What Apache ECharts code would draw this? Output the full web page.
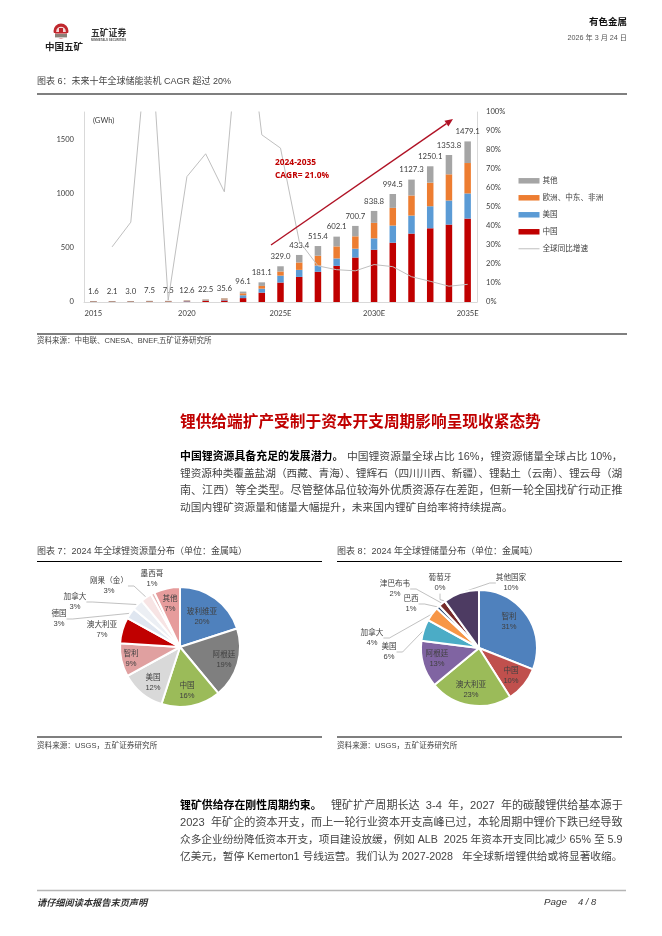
<!DOCTYPE html>
<html><head><meta charset="utf-8">
<style>html,body{margin:0;padding:0;background:#fff}#c{width:662px;height:936px}</style>
<script src="https://cdn.jsdelivr.net/npm/echarts@6/dist/echarts.min.js"></script>
</head><body><div id="c"></div>
<script>
// ---- chart data ----
const years = ['2015','2016','2017','2018','2019','2020','2021','2022','2023','2024','2025E','2026E','2027E','2028E','2029E','2030E','2031E','2032E','2033E','2034E','2035E'];
const totals = [1.6,2.1,3.0,7.5,7.5,12.6,22.5,35.6,96.1,181.1,329.0,433.4,515.4,602.1,700.7,838.8,994.5,1127.3,1250.1,1353.8,1479.1];
const china = [0.4,0.5,0.8,2.2,2.4,4.5,9,14,36,86,179,231,278,333,410,481,546,630,679,713,768];
const usa = [0.5,0.7,1,2.5,2.2,3.5,6,9,26,37,64,65,58,68,81,105,158,166,203,222,232];
const emea = [0.4,0.5,0.7,1.8,1.8,3.2,5.5,9,18,25,38,68,90,111,114,143,163,185,217,241,280];
const others = [0.3,0.4,0.5,1.0,1.1,1.4,2.0,3.6,16.1,33.1,48,69.4,89.4,90.1,95.7,109.8,127.5,146.3,151.1,177.8,199.1];
const growth = [null,29,42,150,1,66,78,58,170,88,81,32,19,17,16.4,19.7,18.6,13.3,10.9,8.3,9.3];

const resNames = ['玻利维亚','阿根廷','中国','美国','智利','澳大利亚','德国','加拿大','刚果（金）','墨西哥','其他'];
const resValues = [20,19,16,12,9,7,3,3,3,1,7];
const resColors = ['#4f81bd','#7f7f7f','#9bbb59','#d9d9d9','#e0a0a0','#c00000','#dfe6f0','#eceff4','#f7e4e4','#e6b9b8','#e69c9c'];
const resLabelPos = [[202,617],[224,660],[187,691],[153,683],[131,659],[102,630],[59,619],[75,602],[109,586],[152,579],[170,604]];
const resOutside = [6,7,8];

const rsvNames = ['智利','中国','澳大利亚','阿根廷','美国','加拿大','巴西','津巴布韦','葡萄牙','其他国家'];
const rsvValues = [31,10,23,13,6,4,1,2,0,10];
const rsvColors = ['#4f81bd','#c0504d','#9bbb59','#8064a2','#4bacc6','#f79646','#2c4d75','#772c2a','#5f7530','#4d3b62'];
const rsvLabelPos = [[509,622],[511,676],[471,690],[437,659],[389,652],[372,638],[411,604],[395,589],[440,583],[511,583]];
const rsvOutside = [4,5,6,7,8,9];

// ---- page text ----
const CN = '"Liberation Sans","Noto Sans CJK SC",sans-serif';
const LAT = 'Lato,"Noto Sans CJK SC",sans-serif';
const para1 = [
 ['中国锂资源具备充足的发展潜力。','中国锂资源量全球占比 16%，锂资源储量全球占比 10%，',347,623],
 ['','锂资源种类覆盖盐湖（西藏、青海）、锂辉石（四川川西、新疆）、锂黏土（云南）、锂云母（湖',180,623],
 ['','南、江西）等全类型。尽管整体品位较海外优质资源存在差距，但新一轮全国找矿行动正推',180,623],
 ['','动国内锂矿资源量和储量大幅提升，未来国内锂矿自给率将持续提高。',180,513]];
const para1Y = [457,474,491,508];
const para2 = [
 ['锂矿供给存在刚性周期约束。','锂矿扩产周期长达  3-4  年，2027  年的碳酸锂供给基本源于',331,623],
 ['','2023  年矿企的资本开支，而上一轮行业资本开支高峰已过，本轮周期中锂价下跌已经导致',180,623],
 ['','众多企业纷纷降低资本开支，项目建设放缓，例如 ALB  2025 年资本开支同比减少 65% 至 5.9',180,623],
 ['','亿美元，暂停 Kemerton1 号线运营。我们认为 2027-2028   年全球新增锂供给或将显著收缩。',180,623]];
const para2Y = [806,823,840,857];

const ctx = document.createElement('canvas').getContext('2d');
function w100(t,weight){ctx.font=(weight||'normal')+' 100px '+CN;return ctx.measureText(t).width;}
function T(text,x,y,size,o){o=o||{};return {type:'text',silent:true,z:o.z||10,style:{text:text,x:x,y:y,fontSize:size,fontFamily:o.ff||CN,fontWeight:o.w||'normal',fontStyle:o.st||'normal',fill:o.c||'#333',align:o.a||'left',verticalAlign:'middle'}};}
function R(x1,x2,y,c,h){return {type:'rect',silent:true,z:5,shape:{x:x1,y:y-(h||1)/2,width:x2-x1,height:h||1},style:{fill:c||'#000'}};}
function para(lines,ys,out){
  lines.forEach((l,i)=>{
    if(l[0]) out.push(T(l[0],180,ys[i],10.9,{w:'bold',c:'#000'}));
    out.push(T(l[1],l[2],ys[i],(l[3]-l[2])/w100(l[1])*100,{c:'#444'}));
  });
}
const g=[];
// header logo
g.push({type:'circle',silent:true,shape:{cx:61,cy:31,r:7.5},style:{fill:'#c0272d'}});
g.push({type:'circle',silent:true,shape:{cx:61,cy:31.5,r:4.8},style:{fill:'#f3d9d9'}});
g.push({type:'rect',silent:true,shape:{x:52,y:33,width:18,height:5},style:{fill:'#fff'}});
g.push({type:'rect',silent:true,shape:{x:55,y:32,width:12,height:1.6},style:{fill:'#c0272d'}});
g.push({type:'rect',silent:true,shape:{x:55,y:34,width:12,height:3.4},style:{fill:'#8a8078'}});
g.push({type:'rect',silent:true,shape:{x:59,y:28,width:4,height:4},style:{fill:'#c0272d'}});
g.push(T('中国五矿',45,47,9.5,{w:'bold',c:'#222'}));
g.push(T('五矿证券',91,34,8.8,{w:'bold',c:'#333'}));
g.push(T('MINMETALS SECURITIES',91,40.5,2.9,{c:'#555',w:'bold'}));
g.push(T('有色金属',627,22,9.5,{w:'bold',c:'#111',a:'right'}));
g.push(T('2026 年 3 月 24 日',627,38,7.2,{c:'#555',a:'right'}));
// chart 6
g.push(T('图表 6：未来十年全球储能装机 CAGR 超过 20%',37,82,9,{c:'#444'}));
g.push(R(37,627,94,'#000',1));
g.push(T('(GWh)',93,121,7.6,{ff:LAT,c:'#404040'}));
g.push(T('2024-2035',275,163,8.4,{w:'bold',c:'#c00000',ff:'"Open Sans",sans-serif'}));
g.push(T('CAGR= 21.0%',275,176,8.4,{w:'bold',c:'#c00000',ff:'"Open Sans",sans-serif'}));
// growth arrow annotation
(function(){
  const a=[271,245],b=[453,119],L=Math.hypot(b[0]-a[0],b[1]-a[1]),d=[(b[0]-a[0])/L,(b[1]-a[1])/L],n=[-d[1],d[0]],hl=8,hw=3.5;
  const base=[b[0]-d[0]*hl,b[1]-d[1]*hl];
  g.push({type:'line',silent:true,z:8,shape:{x1:a[0],y1:a[1],x2:base[0],y2:base[1]},style:{stroke:'#b01225',lineWidth:1.4}});
  g.push({type:'polygon',silent:true,z:8,shape:{points:[b,[base[0]+n[0]*hw,base[1]+n[1]*hw],[base[0]-n[0]*hw,base[1]-n[1]*hw]]},style:{fill:'#b01225'}});
})();
g.push(R(37,627,334,'#000',1));
g.push(T('资料来源：中电联、CNESA、BNEF,五矿证券研究所',37,341,7.5,{c:'#444'}));
// body
g.push(T('锂供给端扩产受制于资本开支周期影响呈现收紧态势',180,423,15.7,{w:'bold',c:'#c00000'}));
para(para1,para1Y,g);
// chart 7/8 frames
g.push(T('图表 7：2024 年全球锂资源量分布（单位：金属吨）',37,552,9,{c:'#444'}));
g.push(R(37,322,561.5,'#000',1));
g.push(R(37,322,737,'#000',1));
g.push(T('资料来源：USGS，五矿证券研究所',37,746,7.6,{c:'#444'}));
g.push(T('图表 8：2024 年全球锂储量分布（单位：金属吨）',337,552,9,{c:'#444'}));
g.push(R(337,622,561.5,'#000',1));
g.push(R(337,622,737,'#000',1));
g.push(T('资料来源：USGS，五矿证券研究所',337,746,7.6,{c:'#444'}));
para(para2,para2Y,g);
// footer
g.push(R(37,626,890.5,'#b5b5b5',1.5));
g.push(T('请仔细阅读本报告末页声明',37,903,9.2,{st:'italic',w:'bold',c:'#333'}));
g.push(T('Page',544,902,9.8,{st:'italic',c:'#333'}));
g.push(T('4 / 8',578,902,9.4,{st:'italic',c:'#333'}));

const axisText={color:'#404040',fontSize:7.6,fontFamily:LAT};
function bar(name,data,color,extra){return Object.assign({name,type:'bar',stack:'t',data,barWidth:6.5,barMinHeight:0.5,itemStyle:{color},xAxisIndex:0,yAxisIndex:0},extra||{});}
function pie(names,values,colors,pos,outside,center,r){
  return {type:'pie',center,radius:r,startAngle:90,clockwise:true,minAngle:0,silent:true,avoidLabelOverlap:false,
    itemStyle:{borderColor:'#fff',borderWidth:2},
    label:{show:true,position:'outside',formatter:'{b}\n{c}%',fontSize:7.6,lineHeight:10.6,color:'#404040',fontFamily:CN,overflow:'none'},
    labelLine:{show:true,length:6,length2:6,lineStyle:{color:'#a6a6a6',width:0.7}},
    labelLayout:p=>({x:pos[p.dataIndex][0],y:pos[p.dataIndex][1],align:'center',verticalAlign:'middle'}),
    data:names.map((n,i)=>({name:n,value:values[i],itemStyle:{color:colors[i]},labelLine:{show:outside.includes(i)}}))};
}
const option={
  animation:false,backgroundColor:'#fff',
  graphic:g,
  grid:{left:84,right:662-477,top:112,height:190,containLabel:false},
  legend:{orient:'vertical',left:513,top:172,itemWidth:21,itemHeight:5.5,itemGap:9.4,selectedMode:false,
    textStyle:{fontSize:7.6,color:'#404040',fontFamily:CN,padding:[0,0,0,-2]},
    data:[{name:'其他',icon:'rect'},{name:'欧洲、中东、非洲',icon:'rect'},{name:'美国',icon:'rect'},{name:'中国',icon:'rect'},
      {name:'全球同比增速',itemStyle:{color:'transparent',borderColor:'transparent'},lineStyle:{color:'#bfbfbf',width:1}}]},
  xAxis:{type:'category',data:years,axisTick:{show:false},axisLine:{lineStyle:{color:'#d9d9d9'}},
    axisLabel:Object.assign({interval:4,margin:8,showMaxLabel:true},axisText)},
  yAxis:[
    {type:'value',min:0,max:1750,interval:500,splitLine:{show:false},axisTick:{show:false},
      axisLine:{show:true,lineStyle:{color:'#d9d9d9'}},
      axisLabel:Object.assign({margin:10,showMaxLabel:false,formatter:v=>String(v)},axisText)},
    {type:'value',position:'right',min:0,max:100,interval:10,splitLine:{show:false},axisTick:{show:false},
      axisLine:{show:true,lineStyle:{color:'#d9d9d9'}},
      axisLabel:Object.assign({margin:9,formatter:'{value}%'},axisText)}
  ],
  series:[
    bar('中国',china,'#c00000'),
    bar('美国',usa,'#5b9bd5'),
    bar('欧洲、中东、非洲',emea,'#ed7d31'),
    bar('其他',others,'#a5a5a5',{
      label:{show:true,position:'top',distance:6,fontSize:7.8,color:'#404040',fontFamily:LAT,
        formatter:p=>totals[p.dataIndex].toFixed(1)}
    }),
    {name:'全球同比增速',type:'line',yAxisIndex:1,data:growth,symbol:'none',clip:true,connectNulls:false,
      lineStyle:{color:'#bfbfbf',width:1},itemStyle:{color:'#bfbfbf'},z:3},
    pie(resNames,resValues,resColors,resLabelPos,resOutside,[180,647],60),
    pie(rsvNames,rsvValues,rsvColors,rsvLabelPos,rsvOutside,[479,648],58)
  ]
};
echarts.init(document.getElementById('c'),null,{renderer:'canvas'}).setOption(option);
</script></body></html>
